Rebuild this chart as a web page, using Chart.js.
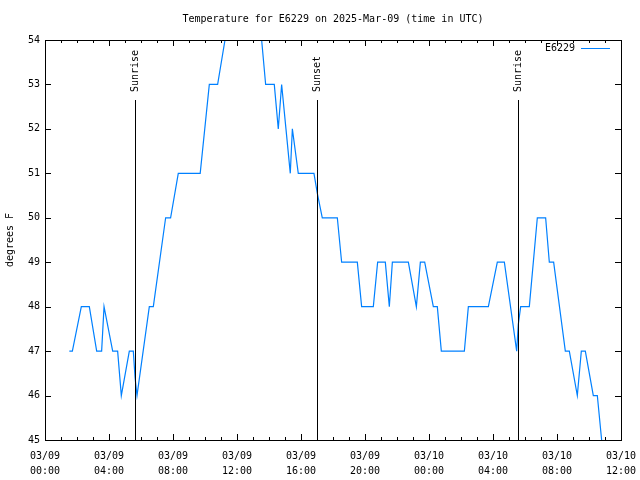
<!DOCTYPE html>
<html>
<head>
<meta charset="utf-8">
<title>Temperature for E6229</title>
<script src="https://cdn.jsdelivr.net/npm/chart.js@4.4.1/dist/chart.umd.min.js"></script>
<style>
  html, body { margin: 0; padding: 0; background: #fff; }
  canvas { display: block; }
</style>
</head>
<body>
<canvas id="temp-chart" width="640" height="480"></canvas>
<script>
// hours since 03/09 00:00 UTC
const hours = [
    1.52, 1.71, 2.27, 2.77, 3.23, 3.54, 3.69, 4.23, 4.54, 4.77,
    5.27, 5.52, 5.63, 5.75, 6.52, 6.77, 7.54, 7.85, 8.33, 9.70,
    10.27, 10.79, 11.25, 12.0, 12.9, 13.54, 13.79, 14.33, 14.58, 14.79,
    15.06, 15.33, 15.46, 15.83, 16.81, 17.02, 17.33, 18.27, 18.54, 19.52,
    19.79, 20.52, 20.79, 21.27, 21.52, 21.71, 22.71, 23.21, 23.46, 23.73,
    24.27, 24.52, 24.77, 26.21, 26.46, 27.71, 28.27, 28.71, 29.48, 29.58,
    29.73, 30.27, 30.77, 31.29, 31.52, 31.79, 32.52, 32.77, 33.27, 33.52,
    33.77, 34.27, 34.52, 34.79
];
const tempsF = [
    47, 47, 48, 48, 47, 47, 48, 47, 47, 46,
    47, 47, 46.4, 46, 48, 48, 50, 50, 51, 51,
    53, 53, 54, 55, 55, 54, 53, 53, 52, 53,
    52, 51, 52, 51, 51, 50.55, 50, 50, 49, 49,
    48, 48, 49, 49, 48, 49, 49, 48, 49, 49,
    48, 48, 47, 47, 48, 48, 49, 49, 47, 47.6,
    48, 48, 50, 50, 49, 49, 47, 47, 46, 47,
    47, 46, 46, 45
];
// one label pair per 4 hours
const xTickLabels = [
    ['03/09', '00:00'], ['03/09', '04:00'], ['03/09', '08:00'], ['03/09', '12:00'],
    ['03/09', '16:00'], ['03/09', '20:00'], ['03/10', '00:00'], ['03/10', '04:00'],
    ['03/10', '08:00'], ['03/10', '12:00']
];
const sunTimes = [5.63, 17.0, 29.56];
const sunLabels = ['Sunrise', 'Sunset', 'Sunrise'];
const sunLineTop = 52.65;

const stationName = 'E6229';
const chartTitle = 'Temperature for E6229 on 2025-Mar-09 (time in UTC)';
const lineColor = '#0080ff';
const FONT = '10px "DejaVu Sans Mono", monospace';

// gnuplot-like frame: border, inward ticks, sun lines, title and key
const gnuplotFrame = {
    id: 'gnuplotFrame',
    afterDraw(chart) {
        const ctx = chart.ctx;
        const area = chart.chartArea;
        const xs = chart.scales.x;
        const ys = chart.scales.y;
        ctx.save();
        ctx.strokeStyle = '#000';
        ctx.fillStyle = '#000';
        ctx.lineWidth = 1;

        // border
        ctx.strokeRect(Math.round(area.left) + 0.5, Math.round(area.top) + 0.5,
            Math.round(area.right - area.left), Math.round(area.bottom - area.top));

        // x ticks (bottom and top)
        ctx.beginPath();
        xs.ticks.forEach(t => {
            const px = Math.round(xs.getPixelForValue(t.value)) + 0.5;
            const len = t.value % 4 === 0 ? 6 : 3;
            ctx.moveTo(px, area.bottom); ctx.lineTo(px, area.bottom - len);
            ctx.moveTo(px, area.top); ctx.lineTo(px, area.top + len);
        });
        // y ticks (left and right)
        ys.ticks.forEach(t => {
            const py = Math.round(ys.getPixelForValue(t.value)) + 0.5;
            ctx.moveTo(area.left, py); ctx.lineTo(area.left + 6, py);
            ctx.moveTo(area.right, py); ctx.lineTo(area.right - 6, py);
        });
        ctx.stroke();

        // sunrise / sunset markers
        ctx.font = FONT;
        sunTimes.forEach((h, i) => {
            const px = Math.round(xs.getPixelForValue(h)) + 0.5;
            const top = ys.getPixelForValue(sunLineTop);
            ctx.beginPath();
            ctx.moveTo(px, top);
            ctx.lineTo(px, area.bottom);
            ctx.stroke();
            ctx.save();
            ctx.translate(px, top - 8);
            ctx.rotate(-Math.PI / 2);
            ctx.textAlign = 'left';
            ctx.textBaseline = 'middle';
            ctx.fillText(sunLabels[i], 0, 0);
            ctx.restore();
        });

        // title
        ctx.textAlign = 'center';
        ctx.textBaseline = 'middle';
        ctx.fillText(chartTitle, (area.left + area.right) / 2, 19.5);

        // key
        const keyY = area.top + 8.5;
        ctx.textAlign = 'right';
        ctx.fillText(chart.data.datasets[0].label, area.right - 46, keyY);
        ctx.strokeStyle = chart.data.datasets[0].borderColor;
        ctx.beginPath();
        ctx.moveTo(area.right - 40, keyY);
        ctx.lineTo(area.right - 11, keyY);
        ctx.stroke();
        ctx.restore();
    }
};

const ctx = document.getElementById('temp-chart');
new Chart(ctx, {
    type: 'line',
    data: {
        datasets: [{
            label: stationName,
            data: hours.map((h, i) => ({ x: h, y: tempsF[i] })),
            borderColor: lineColor,
            borderWidth: 1.2,
            pointRadius: 0,
            tension: 0,
            fill: false
        }]
    },
    options: {
        responsive: false,
        animation: false,
        layout: { padding: { top: 40, right: 19, left: 0, bottom: 0 } },
        plugins: {
            legend: { display: false },
            title: { display: false },
            tooltip: { enabled: false }
        },
        scales: {
            x: {
                type: 'linear',
                min: 0,
                max: 36,
                grid: { display: false, drawTicks: false },
                border: { display: false },
                ticks: {
                    stepSize: 1,
                    autoSkip: false,
                    maxRotation: 0,
                    padding: 9,
                    color: '#000',
                    font: { family: '"DejaVu Sans Mono", monospace', size: 10, lineHeight: 1.5 },
                    callback: v => (v % 4 === 0 ? xTickLabels[v / 4] : '')
                },
                afterFit: scale => {
                    scale.height = 40;
                    scale.paddingLeft = 0;
                    scale.paddingRight = 0;
                }
            },
            y: {
                min: 45,
                max: 54,
                grid: { display: false, drawTicks: false },
                border: { display: false },
                ticks: {
                    stepSize: 1,
                    padding: 5,
                    color: '#000',
                    font: { family: '"DejaVu Sans Mono", monospace', size: 10 }
                },
                title: {
                    display: true,
                    text: 'degrees F',
                    color: '#000',
                    padding: { top: 4 },
                    font: { family: '"DejaVu Sans Mono", monospace', size: 10 }
                },
                afterFit: scale => {
                    scale.width = 45;
                    scale.paddingTop = 0;
                    scale.paddingBottom = 0;
                }
            }
        }
    },
    plugins: [gnuplotFrame]
});
</script>
</body>
</html>
